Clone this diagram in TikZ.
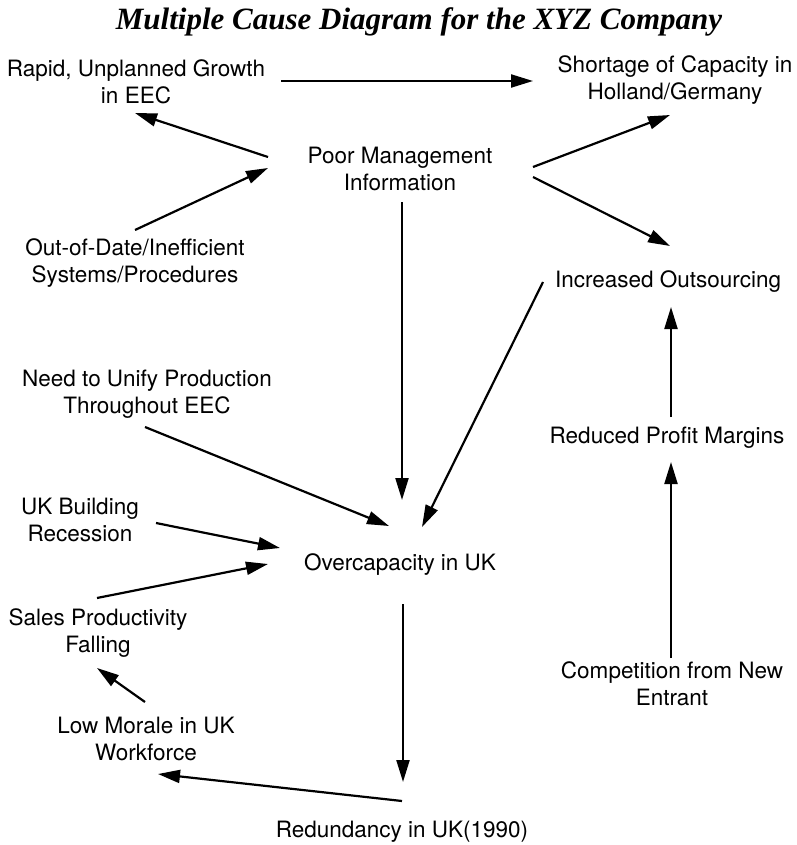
\documentclass[tikz,border=0pt]{standalone}
\usepackage{fontspec}
\usetikzlibrary{arrows.meta,calc}
\newfontfamily\labelfont{TeX Gyre Heros}
\newfontfamily\headfont{Liberation Serif}
\begin{document}
\begin{tikzpicture}[x=1pt,y=-1pt,
  cause/.style={align=center,inner sep=0pt,
    font=\labelfont\fontsize{22.5}{27}\selectfont},
  arr/.style={line width=2.2pt,-{Triangle[length=22pt,width=13pt]}}]
\useasboundingbox (0,0) rectangle (796,845);

% heading
\node (title) at (419,22) {\headfont\bfseries\itshape\fontsize{31}{36}\selectfont Multiple Cause Diagram for the XYZ Company};

% causes and effects
\node[cause] (rapid)  at (136,81.5)  {Rapid, Unplanned Growth\\in EEC};
\node[cause] (short)  at (675,80)    {Shortage of Capacity in\\Holland/Germany};
\node[cause] (pm)     at (400,168.5) {Poor Management\\Information};
\node[cause] (ood)    at (135,263.5) {Out-of-Date/Inefficient\\Systems/Procedures};
\node[cause] (inc)    at (668,282)   {Increased Outsourcing};
\node[cause] (need)   at (147,394.5) {Need to Unify Production\\Throughout EEC};
\node[cause] (red)    at (667,438)   {Reduced Profit Margins};
\node[cause] (ukb)    at (80,520)    {UK Building\\Recession};
\node[cause] (over)   at (400,565)   {Overcapacity in UK};
\node[cause] (sales)  at (98,633.5)  {Sales Productivity\\Falling};
\node[cause] (comp)   at (672,683.5) {Competition from New\\Entrant};
\node[cause] (low)    at (146,738.5) {Low Morale in UK\\Workforce};
\node[cause] (redund) at (402,832)   {Redundancy in UK(1990)};

% causal links
\draw[arr] ($(rapid)+(145,-0.5)$) -- ($(short)+(-142,1)$);
\draw[arr] ($(pm)+(-132,-11.5)$) -- ($(rapid)+(-1,31.5)$);
\draw[arr] ($(ood)+(0,-33.5)$) -- ($(pm)+(-132,-0.5)$);
\draw[arr] ($(pm)+(133,-1.5)$) -- ($(short)+(-5,35)$);
\draw[arr] ($(pm)+(133,8.5)$) -- ($(inc)+(2,-36)$);
\draw[arr] ($(pm)+(2,33.5)$) -- ($(over)+(2,-65)$);
\draw[arr] ($(inc)+(-125,0)$) -- ($(over)+(22,-38)$);
\draw[arr] ($(need)+(-2,32.5)$) -- ($(over)+(-11,-39)$);
\draw[arr] ($(ukb)+(76,3)$) -- ($(over)+(-120,-17)$);
\draw[arr] ($(sales)+(-1,-35.5)$) -- ($(over)+(-132,-1)$);
\draw[arr] ($(over)+(3,39)$) -- ($(redund)+(1,-50)$);
\draw[arr] ($(redund)+(0,-31)$) -- ($(low)+(12,35.5)$);
\draw[arr] ($(low)+(-1,-36.5)$) -- ($(sales)+(-1,34.5)$);
\draw[arr] ($(comp)+(-1,-25.5)$) -- ($(red)+(4,24)$);
\draw[arr] ($(red)+(4,-21)$) -- ($(inc)+(3,25)$);
\end{tikzpicture}
\end{document}
